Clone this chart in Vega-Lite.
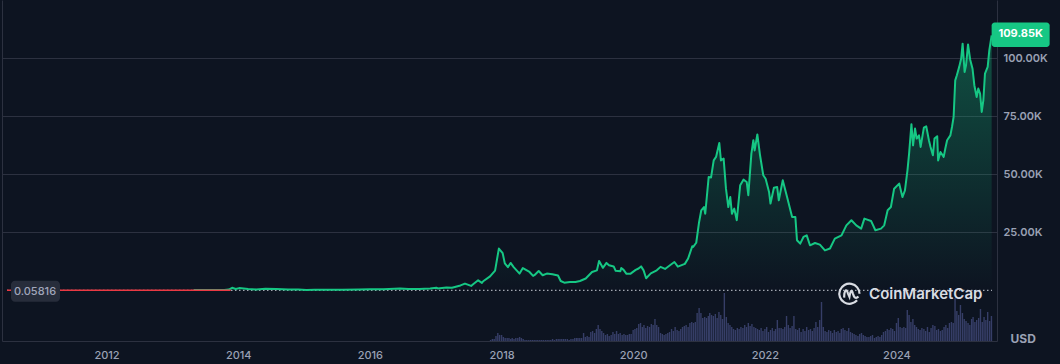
{
  "$schema": "https://vega.github.io/schema/vega-lite/v6.json",
  "width": 995,
  "height": 341,
  "autosize": {"type": "none"},
  "padding": {"left": 2, "top": 0, "right": 63, "bottom": 23},
  "background": "#0d1421",
  "config": {
    "view": {"stroke": null},
    "axis": {"labelFont": "Inter", "titleFont": "Inter"}
  },
  "datasets": {
    "price": [
      {"date": "2013-04-28", "price": 135},
      {"date": "2013-07-01", "price": 90},
      {"date": "2013-09-01", "price": 130},
      {"date": "2013-10-15", "price": 150},
      {"date": "2013-11-10", "price": 330},
      {"date": "2013-11-28", "price": 1100},
      {"date": "2013-12-18", "price": 550},
      {"date": "2014-01-06", "price": 950},
      {"date": "2014-02-25", "price": 550},
      {"date": "2014-04-10", "price": 380},
      {"date": "2014-06-01", "price": 650},
      {"date": "2014-08-01", "price": 590},
      {"date": "2014-10-05", "price": 320},
      {"date": "2014-12-01", "price": 380},
      {"date": "2015-01-14", "price": 180},
      {"date": "2015-03-01", "price": 260},
      {"date": "2015-06-01", "price": 230},
      {"date": "2015-08-01", "price": 280},
      {"date": "2015-11-04", "price": 400},
      {"date": "2016-01-01", "price": 430},
      {"date": "2016-03-15", "price": 415},
      {"date": "2016-06-17", "price": 760},
      {"date": "2016-08-02", "price": 550},
      {"date": "2016-10-01", "price": 610},
      {"date": "2016-12-01", "price": 750},
      {"date": "2017-01-04", "price": 1150},
      {"date": "2017-01-12", "price": 800},
      {"date": "2017-03-01", "price": 1200},
      {"date": "2017-04-01", "price": 1080},
      {"date": "2017-05-18", "price": 2100},
      {"date": "2017-06-12", "price": 2900},
      {"date": "2017-07-16", "price": 1900},
      {"date": "2017-07-27", "price": 2600},
      {"date": "2017-08-24", "price": 4300},
      {"date": "2017-09-14", "price": 3200},
      {"date": "2017-09-21", "price": 3900},
      {"date": "2017-10-29", "price": 6000},
      {"date": "2017-11-26", "price": 8500},
      {"date": "2017-12-17", "price": 18000},
      {"date": "2018-01-07", "price": 16000},
      {"date": "2018-01-19", "price": 11600},
      {"date": "2018-02-05", "price": 10000},
      {"date": "2018-02-20", "price": 11800},
      {"date": "2018-03-09", "price": 10000},
      {"date": "2018-04-11", "price": 7200},
      {"date": "2018-04-29", "price": 9600},
      {"date": "2018-06-05", "price": 7900},
      {"date": "2018-06-25", "price": 6200},
      {"date": "2018-07-02", "price": 6500},
      {"date": "2018-07-26", "price": 8300},
      {"date": "2018-08-17", "price": 6500},
      {"date": "2018-09-09", "price": 7200},
      {"date": "2018-10-10", "price": 6900},
      {"date": "2018-11-10", "price": 6400},
      {"date": "2018-11-25", "price": 4000},
      {"date": "2018-12-15", "price": 3300},
      {"date": "2019-01-15", "price": 3600},
      {"date": "2019-02-15", "price": 3600},
      {"date": "2019-03-12", "price": 4000},
      {"date": "2019-04-13", "price": 5100},
      {"date": "2019-05-18", "price": 7900},
      {"date": "2019-06-14", "price": 8600},
      {"date": "2019-06-26", "price": 12600},
      {"date": "2019-07-17", "price": 9700},
      {"date": "2019-08-06", "price": 11800},
      {"date": "2019-08-20", "price": 10800},
      {"date": "2019-09-15", "price": 10300},
      {"date": "2019-09-26", "price": 8400},
      {"date": "2019-10-22", "price": 8200},
      {"date": "2019-10-27", "price": 9600},
      {"date": "2019-11-09", "price": 8800},
      {"date": "2019-11-25", "price": 7100},
      {"date": "2019-12-16", "price": 7100},
      {"date": "2020-01-15", "price": 8800},
      {"date": "2020-01-31", "price": 9400},
      {"date": "2020-02-14", "price": 10300},
      {"date": "2020-02-28", "price": 8600},
      {"date": "2020-03-13", "price": 5200},
      {"date": "2020-04-08", "price": 7300},
      {"date": "2020-05-11", "price": 8600},
      {"date": "2020-06-01", "price": 10100},
      {"date": "2020-06-26", "price": 9200},
      {"date": "2020-07-27", "price": 11000},
      {"date": "2020-08-17", "price": 12200},
      {"date": "2020-09-05", "price": 10200},
      {"date": "2020-10-14", "price": 11400},
      {"date": "2020-11-01", "price": 13700},
      {"date": "2020-11-24", "price": 19000},
      {"date": "2020-11-29", "price": 18700},
      {"date": "2020-12-16", "price": 20500},
      {"date": "2020-12-31", "price": 29000},
      {"date": "2021-01-13", "price": 34500},
      {"date": "2021-01-28", "price": 35900},
      {"date": "2021-02-04", "price": 33000},
      {"date": "2021-02-23", "price": 48800},
      {"date": "2021-03-08", "price": 48600},
      {"date": "2021-03-23", "price": 56000},
      {"date": "2021-04-05", "price": 57500},
      {"date": "2021-04-23", "price": 63500},
      {"date": "2021-05-02", "price": 56000},
      {"date": "2021-05-17", "price": 56800},
      {"date": "2021-05-30", "price": 43800},
      {"date": "2021-06-12", "price": 35900},
      {"date": "2021-06-23", "price": 40200},
      {"date": "2021-07-02", "price": 33000},
      {"date": "2021-07-15", "price": 35200},
      {"date": "2021-07-29", "price": 30200},
      {"date": "2021-08-17", "price": 45300},
      {"date": "2021-09-04", "price": 47700},
      {"date": "2021-09-22", "price": 46700},
      {"date": "2021-10-01", "price": 41000},
      {"date": "2021-10-18", "price": 58900},
      {"date": "2021-10-29", "price": 64700},
      {"date": "2021-11-05", "price": 60300},
      {"date": "2021-11-20", "price": 67200},
      {"date": "2021-12-05", "price": 58200},
      {"date": "2021-12-23", "price": 49600},
      {"date": "2022-01-05", "price": 48100},
      {"date": "2022-01-24", "price": 42400},
      {"date": "2022-02-01", "price": 37400},
      {"date": "2022-02-20", "price": 44200},
      {"date": "2022-03-10", "price": 44500},
      {"date": "2022-03-19", "price": 38800},
      {"date": "2022-04-10", "price": 47400},
      {"date": "2022-05-04", "price": 40200},
      {"date": "2022-06-01", "price": 31600},
      {"date": "2022-06-19", "price": 31600},
      {"date": "2022-06-28", "price": 21600},
      {"date": "2022-07-16", "price": 20100},
      {"date": "2022-08-03", "price": 23000},
      {"date": "2022-08-21", "price": 23700},
      {"date": "2022-09-08", "price": 19400},
      {"date": "2022-10-06", "price": 20400},
      {"date": "2022-11-02", "price": 19700},
      {"date": "2022-11-30", "price": 17200},
      {"date": "2022-12-28", "price": 18000},
      {"date": "2023-01-24", "price": 22300},
      {"date": "2023-03-02", "price": 23700},
      {"date": "2023-03-29", "price": 28000},
      {"date": "2023-04-26", "price": 30200},
      {"date": "2023-05-23", "price": 28000},
      {"date": "2023-06-19", "price": 26600},
      {"date": "2023-07-07", "price": 30900},
      {"date": "2023-08-13", "price": 29900},
      {"date": "2023-09-06", "price": 25900},
      {"date": "2023-10-07", "price": 26600},
      {"date": "2023-10-25", "price": 28000},
      {"date": "2023-11-13", "price": 34500},
      {"date": "2023-12-01", "price": 35900},
      {"date": "2023-12-19", "price": 43800},
      {"date": "2024-01-16", "price": 46000},
      {"date": "2024-02-03", "price": 40200},
      {"date": "2024-02-17", "price": 43100},
      {"date": "2024-03-02", "price": 51700},
      {"date": "2024-03-11", "price": 58900},
      {"date": "2024-03-24", "price": 71600},
      {"date": "2024-04-02", "price": 62500},
      {"date": "2024-04-13", "price": 69700},
      {"date": "2024-04-22", "price": 65400},
      {"date": "2024-05-05", "price": 66800},
      {"date": "2024-05-14", "price": 61800},
      {"date": "2024-06-01", "price": 70100},
      {"date": "2024-06-14", "price": 70700},
      {"date": "2024-06-29", "price": 64700},
      {"date": "2024-07-08", "price": 61800},
      {"date": "2024-07-21", "price": 58200},
      {"date": "2024-07-30", "price": 65400},
      {"date": "2024-08-14", "price": 66400},
      {"date": "2024-08-19", "price": 56000},
      {"date": "2024-09-01", "price": 59600},
      {"date": "2024-09-19", "price": 57500},
      {"date": "2024-09-28", "price": 61100},
      {"date": "2024-10-08", "price": 64700},
      {"date": "2024-10-26", "price": 66800},
      {"date": "2024-11-04", "price": 70400},
      {"date": "2024-11-13", "price": 74700},
      {"date": "2024-11-22", "price": 90500},
      {"date": "2024-12-01", "price": 92700},
      {"date": "2024-12-14", "price": 96300},
      {"date": "2024-12-25", "price": 99900},
      {"date": "2025-01-02", "price": 106300},
      {"date": "2025-01-13", "price": 94100},
      {"date": "2025-01-21", "price": 97000},
      {"date": "2025-02-01", "price": 106000},
      {"date": "2025-02-13", "price": 99400},
      {"date": "2025-02-26", "price": 95500},
      {"date": "2025-03-08", "price": 88400},
      {"date": "2025-03-21", "price": 83300},
      {"date": "2025-03-30", "price": 87000},
      {"date": "2025-04-09", "price": 84800},
      {"date": "2025-04-18", "price": 76900},
      {"date": "2025-04-27", "price": 81900},
      {"date": "2025-05-06", "price": 93400},
      {"date": "2025-05-21", "price": 96300},
      {"date": "2025-05-30", "price": 103400},
      {"date": "2025-06-12", "price": 109850}
    ],
    "volume": [
      {"date": "2017-11-01", "volume": 1}, {"date": "2017-11-11", "volume": 2}, {"date": "2017-11-21", "volume": 2},
      {"date": "2017-12-01", "volume": 5}, {"date": "2017-12-11", "volume": 8}, {"date": "2017-12-21", "volume": 6},
      {"date": "2018-01-01", "volume": 6}, {"date": "2018-01-11", "volume": 4}, {"date": "2018-01-21", "volume": 3},
      {"date": "2018-02-01", "volume": 3}, {"date": "2018-02-11", "volume": 3}, {"date": "2018-02-21", "volume": 2},
      {"date": "2018-03-01", "volume": 3}, {"date": "2018-03-11", "volume": 2}, {"date": "2018-03-21", "volume": 3},
      {"date": "2018-04-01", "volume": 3}, {"date": "2018-04-11", "volume": 4}, {"date": "2018-04-21", "volume": 3},
      {"date": "2018-05-01", "volume": 2}, {"date": "2018-05-11", "volume": 1}, {"date": "2018-05-21", "volume": 1},
      {"date": "2018-06-01", "volume": 1}, {"date": "2018-06-11", "volume": 1}, {"date": "2018-06-21", "volume": 1},
      {"date": "2018-07-01", "volume": 1}, {"date": "2018-07-11", "volume": 1}, {"date": "2018-07-21", "volume": 1},
      {"date": "2018-08-01", "volume": 1}, {"date": "2018-08-11", "volume": 1}, {"date": "2018-08-21", "volume": 1},
      {"date": "2018-09-01", "volume": 1}, {"date": "2018-09-11", "volume": 1}, {"date": "2018-09-21", "volume": 1},
      {"date": "2018-10-01", "volume": 1}, {"date": "2018-10-11", "volume": 2}, {"date": "2018-10-21", "volume": 1},
      {"date": "2018-11-01", "volume": 2}, {"date": "2018-11-11", "volume": 2}, {"date": "2018-11-21", "volume": 2},
      {"date": "2018-12-01", "volume": 2}, {"date": "2018-12-11", "volume": 2}, {"date": "2018-12-21", "volume": 2},
      {"date": "2019-01-01", "volume": 2}, {"date": "2019-01-11", "volume": 1}, {"date": "2019-01-21", "volume": 2},
      {"date": "2019-02-01", "volume": 2}, {"date": "2019-02-11", "volume": 3}, {"date": "2019-02-21", "volume": 3},
      {"date": "2019-03-01", "volume": 3}, {"date": "2019-03-11", "volume": 3}, {"date": "2019-03-21", "volume": 3},
      {"date": "2019-04-01", "volume": 8}, {"date": "2019-04-11", "volume": 4}, {"date": "2019-04-21", "volume": 5},
      {"date": "2019-05-01", "volume": 4}, {"date": "2019-05-11", "volume": 9}, {"date": "2019-05-21", "volume": 10},
      {"date": "2019-06-01", "volume": 8}, {"date": "2019-06-11", "volume": 12}, {"date": "2019-06-21", "volume": 16},
      {"date": "2019-07-01", "volume": 12}, {"date": "2019-07-11", "volume": 10}, {"date": "2019-07-21", "volume": 8},
      {"date": "2019-08-01", "volume": 6}, {"date": "2019-08-11", "volume": 7}, {"date": "2019-08-21", "volume": 5},
      {"date": "2019-09-01", "volume": 6}, {"date": "2019-09-11", "volume": 9}, {"date": "2019-09-21", "volume": 7},
      {"date": "2019-10-01", "volume": 10}, {"date": "2019-10-11", "volume": 7}, {"date": "2019-10-21", "volume": 8},
      {"date": "2019-11-01", "volume": 6}, {"date": "2019-11-11", "volume": 7}, {"date": "2019-11-21", "volume": 6},
      {"date": "2019-12-01", "volume": 6}, {"date": "2019-12-11", "volume": 7}, {"date": "2019-12-21", "volume": 7},
      {"date": "2020-01-01", "volume": 11}, {"date": "2020-01-11", "volume": 12}, {"date": "2020-01-21", "volume": 13},
      {"date": "2020-02-01", "volume": 17}, {"date": "2020-02-11", "volume": 18}, {"date": "2020-02-21", "volume": 14},
      {"date": "2020-03-01", "volume": 16}, {"date": "2020-03-11", "volume": 13}, {"date": "2020-03-21", "volume": 15},
      {"date": "2020-04-01", "volume": 14}, {"date": "2020-04-11", "volume": 17}, {"date": "2020-04-21", "volume": 16},
      {"date": "2020-05-01", "volume": 22}, {"date": "2020-05-11", "volume": 16}, {"date": "2020-05-21", "volume": 14},
      {"date": "2020-06-01", "volume": 8}, {"date": "2020-06-11", "volume": 7}, {"date": "2020-06-21", "volume": 6},
      {"date": "2020-07-01", "volume": 7}, {"date": "2020-07-11", "volume": 8}, {"date": "2020-07-21", "volume": 9},
      {"date": "2020-08-01", "volume": 12}, {"date": "2020-08-11", "volume": 10}, {"date": "2020-08-21", "volume": 14},
      {"date": "2020-09-01", "volume": 11}, {"date": "2020-09-11", "volume": 10}, {"date": "2020-09-21", "volume": 12},
      {"date": "2020-10-01", "volume": 14}, {"date": "2020-10-11", "volume": 15}, {"date": "2020-10-21", "volume": 16},
      {"date": "2020-11-01", "volume": 14}, {"date": "2020-11-11", "volume": 18}, {"date": "2020-11-21", "volume": 19},
      {"date": "2020-12-01", "volume": 18}, {"date": "2020-12-11", "volume": 19}, {"date": "2020-12-21", "volume": 28},
      {"date": "2021-01-01", "volume": 33}, {"date": "2021-01-11", "volume": 28}, {"date": "2021-01-21", "volume": 23},
      {"date": "2021-02-01", "volume": 24}, {"date": "2021-02-11", "volume": 23}, {"date": "2021-02-21", "volume": 25},
      {"date": "2021-03-01", "volume": 28}, {"date": "2021-03-11", "volume": 26}, {"date": "2021-03-21", "volume": 25},
      {"date": "2021-04-01", "volume": 27}, {"date": "2021-04-11", "volume": 23}, {"date": "2021-04-21", "volume": 29},
      {"date": "2021-05-01", "volume": 26}, {"date": "2021-05-11", "volume": 22}, {"date": "2021-05-21", "volume": 48},
      {"date": "2021-06-01", "volume": 24}, {"date": "2021-06-11", "volume": 18}, {"date": "2021-06-21", "volume": 16},
      {"date": "2021-07-01", "volume": 14}, {"date": "2021-07-11", "volume": 12}, {"date": "2021-07-21", "volume": 11},
      {"date": "2021-08-01", "volume": 13}, {"date": "2021-08-11", "volume": 12}, {"date": "2021-08-21", "volume": 14},
      {"date": "2021-09-01", "volume": 13}, {"date": "2021-09-11", "volume": 16}, {"date": "2021-09-21", "volume": 14},
      {"date": "2021-10-01", "volume": 18}, {"date": "2021-10-11", "volume": 15}, {"date": "2021-10-21", "volume": 17},
      {"date": "2021-11-01", "volume": 14}, {"date": "2021-11-11", "volume": 13}, {"date": "2021-11-21", "volume": 12},
      {"date": "2021-12-01", "volume": 11}, {"date": "2021-12-11", "volume": 13}, {"date": "2021-12-21", "volume": 10},
      {"date": "2022-01-01", "volume": 12}, {"date": "2022-01-11", "volume": 14}, {"date": "2022-01-21", "volume": 9},
      {"date": "2022-02-01", "volume": 11}, {"date": "2022-02-11", "volume": 13}, {"date": "2022-02-21", "volume": 10},
      {"date": "2022-03-01", "volume": 12}, {"date": "2022-03-11", "volume": 21}, {"date": "2022-03-21", "volume": 13},
      {"date": "2022-04-01", "volume": 13}, {"date": "2022-04-11", "volume": 12}, {"date": "2022-04-21", "volume": 14},
      {"date": "2022-05-01", "volume": 25}, {"date": "2022-05-11", "volume": 16}, {"date": "2022-05-21", "volume": 13},
      {"date": "2022-06-01", "volume": 15}, {"date": "2022-06-11", "volume": 25}, {"date": "2022-06-21", "volume": 12},
      {"date": "2022-07-01", "volume": 11}, {"date": "2022-07-11", "volume": 13}, {"date": "2022-07-21", "volume": 9},
      {"date": "2022-08-01", "volume": 12}, {"date": "2022-08-11", "volume": 10}, {"date": "2022-08-21", "volume": 14},
      {"date": "2022-09-01", "volume": 11}, {"date": "2022-09-11", "volume": 12}, {"date": "2022-09-21", "volume": 10},
      {"date": "2022-10-01", "volume": 13}, {"date": "2022-10-11", "volume": 19}, {"date": "2022-10-21", "volume": 14},
      {"date": "2022-11-01", "volume": 21}, {"date": "2022-11-11", "volume": 39}, {"date": "2022-11-21", "volume": 14},
      {"date": "2022-12-01", "volume": 10}, {"date": "2022-12-11", "volume": 9}, {"date": "2022-12-21", "volume": 11},
      {"date": "2023-01-01", "volume": 10}, {"date": "2023-01-11", "volume": 8}, {"date": "2023-01-21", "volume": 11},
      {"date": "2023-02-01", "volume": 9}, {"date": "2023-02-11", "volume": 10}, {"date": "2023-02-21", "volume": 8},
      {"date": "2023-03-01", "volume": 12}, {"date": "2023-03-11", "volume": 13}, {"date": "2023-03-21", "volume": 11},
      {"date": "2023-04-01", "volume": 10}, {"date": "2023-04-11", "volume": 13}, {"date": "2023-04-21", "volume": 9},
      {"date": "2023-05-01", "volume": 8}, {"date": "2023-05-11", "volume": 7}, {"date": "2023-05-21", "volume": 6},
      {"date": "2023-06-01", "volume": 5}, {"date": "2023-06-11", "volume": 7}, {"date": "2023-06-21", "volume": 8},
      {"date": "2023-07-01", "volume": 6}, {"date": "2023-07-11", "volume": 5}, {"date": "2023-07-21", "volume": 4},
      {"date": "2023-08-01", "volume": 4}, {"date": "2023-08-11", "volume": 5}, {"date": "2023-08-21", "volume": 6},
      {"date": "2023-09-01", "volume": 3}, {"date": "2023-09-11", "volume": 4}, {"date": "2023-09-21", "volume": 5},
      {"date": "2023-10-01", "volume": 4}, {"date": "2023-10-11", "volume": 6}, {"date": "2023-10-21", "volume": 9},
      {"date": "2023-11-01", "volume": 10}, {"date": "2023-11-11", "volume": 12}, {"date": "2023-11-21", "volume": 11},
      {"date": "2023-12-01", "volume": 13}, {"date": "2023-12-11", "volume": 12}, {"date": "2023-12-21", "volume": 10},
      {"date": "2024-01-01", "volume": 18}, {"date": "2024-01-11", "volume": 23}, {"date": "2024-01-21", "volume": 14},
      {"date": "2024-02-01", "volume": 13}, {"date": "2024-02-11", "volume": 14}, {"date": "2024-02-21", "volume": 13},
      {"date": "2024-03-01", "volume": 31}, {"date": "2024-03-11", "volume": 26}, {"date": "2024-03-21", "volume": 19},
      {"date": "2024-04-01", "volume": 22}, {"date": "2024-04-11", "volume": 16}, {"date": "2024-04-21", "volume": 14},
      {"date": "2024-05-01", "volume": 12}, {"date": "2024-05-11", "volume": 11}, {"date": "2024-05-21", "volume": 13},
      {"date": "2024-06-01", "volume": 12}, {"date": "2024-06-11", "volume": 10}, {"date": "2024-06-21", "volume": 14},
      {"date": "2024-07-01", "volume": 9}, {"date": "2024-07-11", "volume": 13}, {"date": "2024-07-21", "volume": 16},
      {"date": "2024-08-01", "volume": 15}, {"date": "2024-08-11", "volume": 11}, {"date": "2024-08-21", "volume": 12},
      {"date": "2024-09-01", "volume": 10}, {"date": "2024-09-11", "volume": 11}, {"date": "2024-09-21", "volume": 14},
      {"date": "2024-10-01", "volume": 16}, {"date": "2024-10-11", "volume": 13}, {"date": "2024-10-21", "volume": 18},
      {"date": "2024-11-01", "volume": 19}, {"date": "2024-11-11", "volume": 18}, {"date": "2024-11-21", "volume": 43},
      {"date": "2024-12-01", "volume": 30}, {"date": "2024-12-11", "volume": 26}, {"date": "2024-12-21", "volume": 36},
      {"date": "2025-01-01", "volume": 28}, {"date": "2025-01-11", "volume": 22}, {"date": "2025-01-21", "volume": 20},
      {"date": "2025-02-01", "volume": 18}, {"date": "2025-02-11", "volume": 16}, {"date": "2025-02-21", "volume": 22},
      {"date": "2025-03-01", "volume": 24}, {"date": "2025-03-11", "volume": 19}, {"date": "2025-03-21", "volume": 21},
      {"date": "2025-04-01", "volume": 23}, {"date": "2025-04-11", "volume": 32}, {"date": "2025-04-21", "volume": 19},
      {"date": "2025-05-01", "volume": 24}, {"date": "2025-05-11", "volume": 21}, {"date": "2025-05-21", "volume": 29},
      {"date": "2025-06-01", "volume": 20}, {"date": "2025-06-11", "volume": 25}
    ],
    "baseline": [
      {"date": "2010-06-28", "price": 0.05816},
      {"date": "2025-06-14", "price": 0.05816}
    ],
    "startRun": [
      {"date": "2010-06-28", "price": 0.05816},
      {"date": "2013-11-20", "price": 0.05816}
    ],
    "first": [{"date": "2010-06-28", "price": 0.05816, "label": "0.05816"}],
    "last": [{"date": "2025-06-12", "price": 109850, "label": "109.85K"}],
    "brand": [{"name": "CoinMarketCap"}]
  },
  "resolve": {"scale": {"y": "independent"}},
  "layer": [
    {
      "data": {"name": "volume"},
      "mark": {"type": "bar", "width": 1.4, "color": "#363e67"},
      "encoding": {
        "x": {
          "field": "date", "type": "temporal", "title": null,
          "scale": {"domain": [{"year": 2010, "month": 6, "date": 28}, {"year": 2025, "month": 6, "date": 14}]},
          "axis": {
            "values": [{"year": 2012, "month": 1, "date": 1}, {"year": 2014, "month": 1, "date": 1}, {"year": 2016, "month": 1, "date": 1}, {"year": 2018, "month": 1, "date": 1}, {"year": 2020, "month": 1, "date": 1}, {"year": 2022, "month": 1, "date": 1}, {"year": 2024, "month": 1, "date": 1}],
            "format": "%Y", "ticks": false, "grid": false, "domain": true, "domainColor": "#2c3140",
            "labelColor": "#9aa1b4", "labelFontSize": 11, "labelFontWeight": 500, "labelPadding": 8, "title": null
          }
        },
        "y": {
          "field": "volume", "type": "quantitative",
          "scale": {"domain": [0, 341], "nice": false, "zero": true},
          "axis": {"orient": "left", "domain": true, "domainColor": "#2c3140", "labels": false, "ticks": false, "grid": false, "title": null}
        }
      }
    },
    {
      "encoding": {
        "x": {
          "field": "date", "type": "temporal", "title": null,
          "scale": {"domain": [{"year": 2010, "month": 6, "date": 28}, {"year": 2025, "month": 6, "date": 14}]}
        },
        "y": {
          "field": "price", "type": "quantitative",
          "scale": {"domain": [-21850, 125130], "nice": false, "zero": false},
          "axis": {
            "orient": "right", "values": [25000, 50000, 75000, 100000],
            "labelExpr": "format(datum.value / 1000, '.2f') + 'K'",
            "grid": true, "gridColor": "#2c3140", "domain": true, "domainColor": "#2c3140",
            "ticks": false, "labelPadding": 6, "labelColor": "#9aa1b4", "labelFontSize": 11, "labelFontWeight": 600,
            "title": "USD", "titleAngle": 0, "titleAlign": "left", "titleBaseline": "middle",
            "titleX": 13, "titleY": 338, "titleColor": "#9aa1b4", "titleFontSize": 12, "titleFontWeight": 700
          }
        }
      },
      "layer": [
        {
          "data": {"name": "price"},
          "mark": {
            "type": "area",
            "color": {"gradient": "linear", "x1": 0, "y1": 0, "x2": 0, "y2": 1,
              "stops": [{"offset": 0, "color": "rgba(22,199,132,0.34)"}, {"offset": 1, "color": "rgba(22,199,132,0.0)"}]}
          },
          "encoding": {"y2": {"datum": 0}}
        },
        {
          "data": {"name": "baseline"},
          "mark": {"type": "line", "color": "#c8ccd6", "strokeWidth": 1, "strokeDash": [1.5, 2.5]},
          "encoding": {}
        },
        {
          "data": {"name": "price"},
          "mark": {"type": "line", "color": "#16c784", "strokeWidth": 2, "strokeJoin": "round"},
          "encoding": {}
        },
        {
          "data": {"name": "startRun"},
          "mark": {"type": "line", "color": "#ea3943", "strokeWidth": 1.5},
          "encoding": {}
        },
        {
          "data": {"name": "first"},
          "mark": {"type": "rect", "color": "#272d3b", "cornerRadius": 4, "xOffset": 4, "x2Offset": 53, "yOffset": -9.5, "y2Offset": 11.5},
          "encoding": {"x2": {"field": "date"}, "y2": {"field": "price"}}
        },
        {
          "data": {"name": "first"},
          "mark": {"type": "text", "align": "center", "baseline": "middle", "dx": 28, "dy": 2, "font": "Inter", "fontSize": 11, "fontWeight": 500, "color": "#a1a7bb"},
          "encoding": {"text": {"field": "label"}}
        },
        {
          "data": {"name": "last"},
          "mark": {"type": "rect", "color": "#16c784", "cornerRadius": 3, "xOffset": 0, "x2Offset": 58, "yOffset": -13, "y2Offset": 11.5},
          "encoding": {"x2": {"field": "date"}, "y2": {"field": "price"}}
        },
        {
          "data": {"name": "last"},
          "mark": {"type": "text", "align": "center", "baseline": "middle", "dx": 29, "dy": -1, "font": "Inter", "fontSize": 11, "fontWeight": 700, "color": "#ffffff"},
          "encoding": {"text": {"field": "label"}}
        }
      ]
    },
    {
      "data": {"name": "brand"},
      "layer": [
        {
          "mark": {"type": "text", "align": "left", "baseline": "middle", "font": "Inter", "fontSize": 15, "fontWeight": 600, "color": "#d9dce3"},
          "encoding": {
            "x": {"datum": 1690934400000, "type": "temporal"},
            "y": {"datum": -1500, "type": "quantitative", "scale": {"domain": [-21850, 125130], "nice": false, "zero": false}, "axis": null},
            "text": {"field": "name"}
          }
        },
        {
          "mark": {
            "type": "point", "filled": false, "color": "#d9dce3", "strokeWidth": 2.2, "size": 450, "opacity": 1,
            "shape": "M 0.72 0.66 A 0.95 0.95 0 1 1 0.95 0.05 M -0.5 0.4 L -0.48 0.05 Q -0.33 -0.6 -0.14 0.0 L 0 0.32 Q 0.16 -0.6 0.32 0.0 L 0.44 0.32 Q 0.6 0.55 0.85 0.3"
          },
          "encoding": {
            "x": {"datum": 1681516800000, "type": "temporal"},
            "y": {"datum": -1300, "type": "quantitative", "scale": {"domain": [-21850, 125130], "nice": false, "zero": false}, "axis": null}
          }
        }
      ]
    }
  ]
}
